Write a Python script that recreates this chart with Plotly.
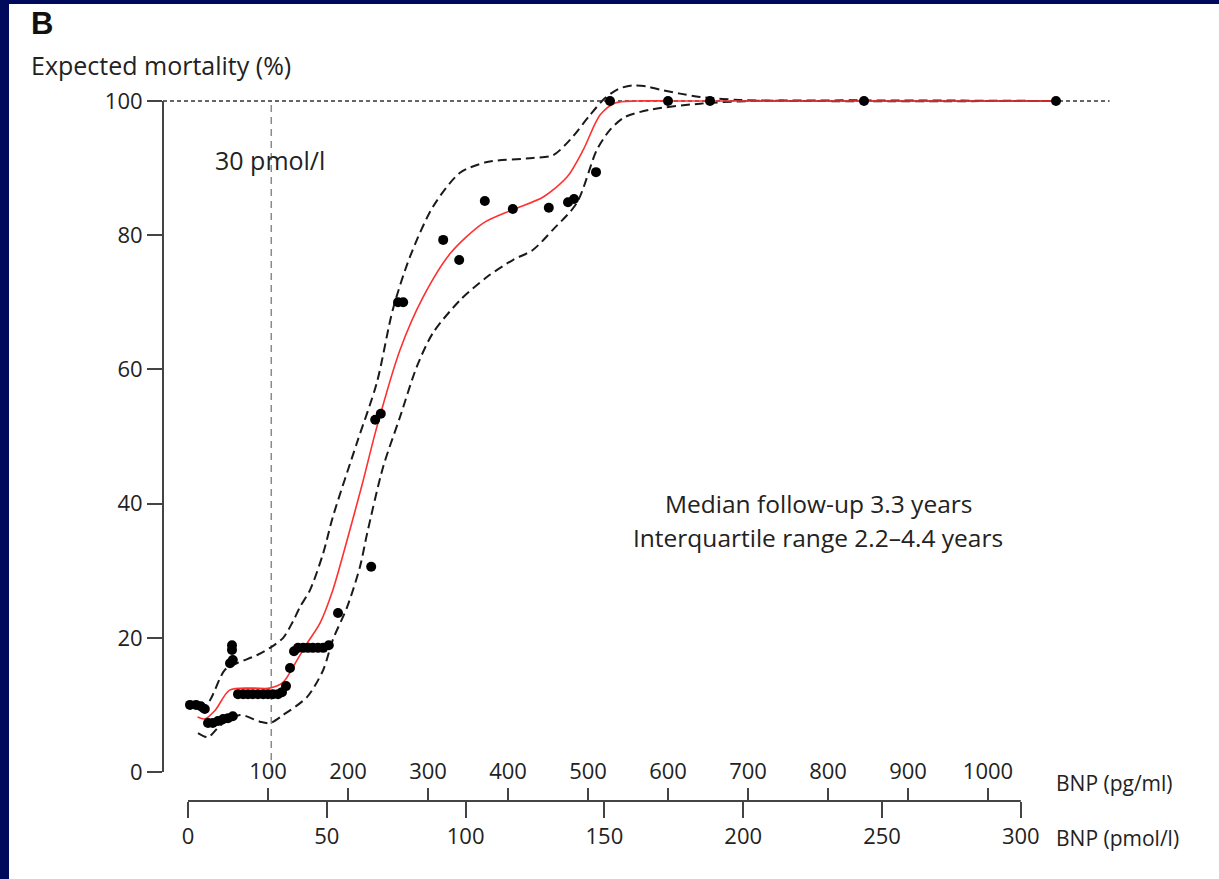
import plotly.graph_objects as go

# ---------------- data ----------------
# observed points: BNP (pg/ml) vs expected mortality (%)
pts_bnp = [2.5, 10, 16, 21, 25, 31, 37.5, 44, 50, 56,
           52.5, 56, 55, 55,
           62.5, 69, 75, 81, 87.5, 94, 100, 106, 112.5, 117.5,
           122.5, 127.5, 132.5,
           137.5, 144, 150, 156, 162.5, 169, 176,
           187.5, 229, 234, 241, 262.5, 269, 319, 339, 371, 406,
           451, 475, 482.5, 510, 527.5, 600, 652.5, 845, 1085]
pts_mort = [10.0, 10.0, 9.8, 9.4, 7.3, 7.3, 7.6, 7.9, 8.0, 8.3,
            16.2, 16.7, 18.2, 18.9,
            11.6, 11.6, 11.6, 11.6, 11.6, 11.6, 11.6, 11.6, 11.6, 11.9,
            12.8, 15.5, 18.0,
            18.5, 18.5, 18.5, 18.5, 18.5, 18.5, 18.9,
            23.7, 30.6, 52.5, 53.4, 70.0, 70.0, 79.3, 76.3, 85.1, 83.9,
            84.1, 84.9, 85.4, 89.4, 100, 100, 100, 100, 100]

# fitted curve (red)
fit_bnp = [12, 21, 34, 52, 81, 102, 119, 134, 149, 165, 181, 199, 218, 236,
           265, 294, 328, 369, 406, 444, 474, 494, 515, 534, 560, 600, 700, 850, 1085]
fit_mort = [8.2, 7.9, 9.2, 12.2, 12.5, 12.5, 13.4, 16.2, 19.2, 22.2, 27.1, 34.6, 43.0, 51.4,
            62.9, 70.8, 77.3, 81.8, 83.8, 85.7, 88.7, 92.7, 97.9, 99.7, 100, 100, 100, 100, 100]

# upper confidence band (dashed)
upper_bnp = [15, 27.5, 46, 61, 86, 102.5, 119, 131, 140, 152.5, 169, 181, 211, 236, 256,
             277.5, 306, 340, 374, 431, 456, 477.5, 502.5, 521, 538, 555, 572, 590, 615, 640, 690, 765, 1085]
upper_mort = [9.0, 10.7, 15.2, 16.2, 17.4, 18.5, 20.0, 22.4, 24.6, 27.1, 32.6, 38.0, 49.0, 58.0, 68.9,
              76.8, 84.2, 89.3, 90.9, 91.5, 91.9, 94.2, 97.9, 100.4, 101.8, 102.3, 102.2, 101.7, 101.1, 100.6,
              100.15, 100, 100]

# lower confidence band (dashed)
lower_bnp = [12.5, 25, 40, 65, 90, 102.5, 119, 149, 169, 181, 199, 215, 224, 244, 265, 286,
             306, 340, 374, 406, 431, 456, 486, 511, 527.5, 546, 577.5, 640, 702.5, 1085]
lower_mort = [5.8, 5.2, 6.9, 8.5, 7.5, 7.3, 8.5, 11.2, 15.2, 19.7, 24.6, 30.6, 35.6, 45.5, 52.9, 60.4,
              65.4, 70.3, 73.8, 76.3, 77.8, 80.8, 84.8, 92.7, 95.7, 97.6, 98.7, 99.6, 100, 100]

y_ticks = [0, 20, 40, 60, 80, 100]
pg_ticks = [100, 200, 300, 400, 500, 600, 700, 800, 900, 1000]
pmol_ticks = [0, 50, 100, 150, 200, 250, 300]
cutoff_pmol = 30
PG_PER_PMOL = 3.47

# ---------------- layout geometry ----------------
W, H = 1219, 879
L, R, T, B = 163, 1112, 78, 801          # paper area in pixels
PW, PH = R - L, B - T
PLOT_BOTTOM = 780
Y0_PX, Y100_PX = 772, 101                 # pixel rows of 0 % and 100 %
PX_PER_PCT = (Y0_PX - Y100_PX) / 100.0
X_RANGE = [-31.25, 1155]
Y_RANGE = [(Y0_PX - PLOT_BOTTOM) / PX_PER_PCT, (Y0_PX - T) / PX_PER_PCT]
Y_DOM0 = (B - PLOT_BOTTOM) / PH


def px(xp):
    return (xp - L) / PW


def py(yp):
    return (B - yp) / PH


FONT = "Open Sans, Noto Sans, sans-serif"
TXT = "#222222"
AX = "#444444"
TICK_FS = 22

fig = go.Figure()

fig.add_trace(go.Scatter(x=upper_bnp, y=upper_mort, mode="lines",
                         line=dict(color="#1a1a1a", width=2, dash="9px,5px", shape="spline", smoothing=0.8),
                         hoverinfo="skip", showlegend=False))
fig.add_trace(go.Scatter(x=lower_bnp, y=lower_mort, mode="lines",
                         line=dict(color="#1a1a1a", width=2, dash="9px,5px", shape="spline", smoothing=0.8),
                         hoverinfo="skip", showlegend=False))
fig.add_trace(go.Scatter(x=fit_bnp, y=fit_mort, mode="lines",
                         line=dict(color="#ff3030", width=1.6, shape="spline", smoothing=0.8),
                         hoverinfo="skip", showlegend=False))
fig.add_trace(go.Scatter(x=pts_bnp, y=pts_mort, mode="markers",
                         marker=dict(color="black", size=10),
                         cliponaxis=False, showlegend=False))
# invisible trace to activate the pmol/l axis
fig.add_trace(go.Scatter(x=[pmol_ticks[0], pmol_ticks[-1]], y=[None, None], xaxis="x2",
                         mode="markers", showlegend=False, hoverinfo="skip"))

fig.update_layout(
    width=W, height=H,
    margin=dict(l=L, r=W - R, t=T, b=H - B, pad=0),
    paper_bgcolor="white", plot_bgcolor="white",
    font=dict(family=FONT, size=TICK_FS, color=TXT),
    showlegend=False,
    xaxis=dict(domain=[0, 1], range=X_RANGE, side="top", anchor="free", position=0,
               tickmode="array", tickvals=pg_ticks, ticktext=[str(v) for v in pg_ticks],
               ticks="outside", ticklen=13, tickwidth=1.6, tickcolor=AX,
               showline=False, showgrid=False, zeroline=False,
               tickfont=dict(family=FONT, size=TICK_FS, color=TXT)),
    xaxis2=dict(overlaying="x", range=[X_RANGE[0] / PG_PER_PMOL, X_RANGE[1] / PG_PER_PMOL],
                side="bottom", anchor="free", position=0,
                tickmode="array", tickvals=pmol_ticks, ticktext=[str(v) for v in pmol_ticks],
                ticks="outside", ticklen=16, tickwidth=1.6, tickcolor=AX,
                showline=False, showgrid=False, zeroline=False,
                tickfont=dict(family=FONT, size=TICK_FS, color=TXT)),
    yaxis=dict(domain=[Y_DOM0, 1], range=Y_RANGE, anchor="x",
               tickmode="array", tickvals=y_ticks, ticktext=[str(v) for v in y_ticks],
               ticks="outside", ticklen=15, tickwidth=1.6, tickcolor=AX,
               showline=False, showgrid=False, zeroline=False,
               tickfont=dict(family=FONT, size=TICK_FS, color=TXT)),
)

shapes = [
    # y axis line 0..100
    dict(type="line", xref="paper", yref="y", x0=0, x1=0, y0=y_ticks[0], y1=y_ticks[-1],
         line=dict(color=AX, width=2)),
    # shared bottom axis line 0..300 pmol/l
    dict(type="line", xref="x2", yref="paper", x0=pmol_ticks[0], x1=pmol_ticks[-1], y0=0, y1=0,
         line=dict(color=AX, width=2)),
    # 100% reference line
    dict(type="line", xref="x", yref="y", x0=X_RANGE[0], x1=1152, y0=100, y1=100,
         line=dict(color="#333333", width=1.6, dash="4px,3px"), layer="below"),
    # cutoff 30 pmol/l
    dict(type="line", xref="x2", yref="y", x0=cutoff_pmol, x1=cutoff_pmol, y0=0, y1=100,
         line=dict(color="#8a8a8a", width=1.5, dash="7px,5px"), layer="below"),
    # navy frame
    dict(type="rect", xref="paper", yref="paper", x0=px(0), x1=px(9), y0=py(H), y1=py(0),
         line=dict(width=0), fillcolor="#000a5c", layer="above"),
    dict(type="rect", xref="paper", yref="paper", x0=px(0), x1=px(W), y0=py(4), y1=py(0),
         line=dict(width=0), fillcolor="#000a5c", layer="above"),
]
fig.update_layout(shapes=shapes)

annotations = [
    dict(text="<b>B</b>", x=px(29), y=py(23), xanchor="left", yanchor="middle",
         font=dict(family="Liberation Sans, Arial, sans-serif", size=31, color="#111111")),
    dict(text="Expected mortality (%)", x=px(29), y=py(65), xanchor="left", yanchor="middle",
         font=dict(size=25)),
    dict(text="30 pmol/l", x=px(270), y=py(160), xanchor="center", yanchor="middle",
         font=dict(size=25)),
    dict(text="Median follow-up 3.3 years", x=px(818), y=py(503), xanchor="center", yanchor="middle",
         font=dict(size=24.5)),
    dict(text="Interquartile range 2.2\u20134.4 years", x=px(818), y=py(537), xanchor="center",
         yanchor="middle", font=dict(size=24.5)),
    dict(text="BNP (pg/ml)", x=px(1054), y=py(783), xanchor="left", yanchor="middle",
         font=dict(size=21)),
    dict(text="BNP (pmol/l)", x=px(1054), y=py(838), xanchor="left", yanchor="middle",
         font=dict(size=21)),
]
for a in annotations:
    a.update(xref="paper", yref="paper", showarrow=False)
fig.update_layout(annotations=annotations)

fig.write_html("out.html", config={"displayModeBar": False},
               post_script="document.body.style.margin='0';")
